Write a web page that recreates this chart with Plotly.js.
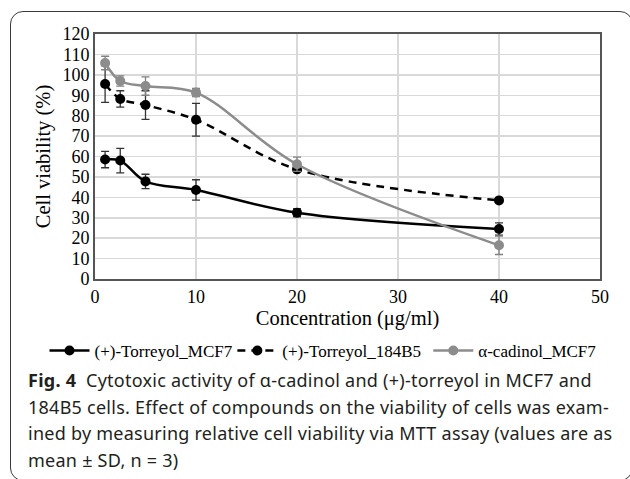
<!DOCTYPE html>
<html>
<head>
<meta charset="utf-8">
<script src="https://cdn.plot.ly/plotly-3.0.1.min.js"></script>
<style>
  html, body { margin: 0; padding: 0; background: #fff; width: 630px; height: 479px; overflow: hidden; }
  #wrap { position: relative; width: 630px; height: 479px; overflow: hidden; }
  #frame { position: absolute; left: 10px; top: 11px; width: 623px; height: 470px;
           border: 1.5px solid #3a3a3a; border-radius: 13px; box-sizing: border-box; }
  #chart { position: absolute; left: 0; top: 0; width: 630px; height: 479px; }
  #caption { position: absolute; left: 28px; top: 367px; width: 600px;
             font-family: "Noto Sans", "Open Sans", sans-serif; font-size: 18px;
             line-height: 26.7px; color: #231f20; white-space: nowrap; letter-spacing: 0.25px; }
  #caption b { font-weight: 700; }
</style>
</head>
<body>
<div id="wrap">
  <div id="frame"></div>
  <div id="chart"></div>
  <div id="caption"><b>Fig. 4</b>&nbsp; Cytotoxic activity of α-cadinol and (+)-torreyol in MCF7 and<br>184B5 cells. Effect of compounds on the viability of cells was exam-<br>ined by measuring relative cell viability via MTT assay (values are as<br>mean ± SD, n = 3)</div>
</div>
<script>
const concentration = [1, 2.5, 5, 10, 20, 40];

const torreyolMCF7 = [58.5, 58, 47.8, 43.6, 32.5, 24.5];
const torreyolMCF7Err = [4, 6, 3.5, 5, 2, 3];

const torreyol184B5 = [95.5, 88.2, 85.2, 78, 53.7, 38.5];
const torreyol184B5Err = [9, 4, 7, 8, 1, 1];

const cadinolMCF7 = [105.8, 97, 94.5, 91.3, 56.2, 16.5];
const cadinolMCF7Err = [3.3, 2.5, 4.5, 2, 3.5, 4.5];

const seriesNames = ["(+)-Torreyol_MCF7", "(+)-Torreyol_184B5", "α-cadinol_MCF7"];
const xTicks = [0, 10, 20, 30, 40, 50];
const yTicks = [0, 10, 20, 30, 40, 50, 60, 70, 80, 90, 100, 110, 120];

const serif = "Liberation Serif, Times New Roman, serif";

function trace(name, y, err, color, dash, errColor, legendId) {
  return {
    x: concentration, y: y, name: name, type: "scatter", mode: "lines+markers",
    legend: legendId,
    line: { color: color, width: 2.5, dash: dash, shape: "spline", smoothing: 1 },
    marker: { color: color, size: 10, symbol: "circle" },
    error_y: { type: "data", array: err, visible: true, color: errColor, thickness: 1.3, width: 4 }
  };
}

const data = [
  trace(seriesNames[0], torreyolMCF7, torreyolMCF7Err, "#000000", "solid", "#333333", "legend"),
  trace(seriesNames[1], torreyol184B5, torreyol184B5Err, "#000000", "8px,6px", "#333333", "legend2"),
  trace(seriesNames[2], cadinolMCF7, cadinolMCF7Err, "#8c8c8c", "solid", "#808080", "legend3")
];

function legendAt(x) {
  return {
    orientation: "h", x: x, xanchor: "left", y: -0.294, yanchor: "middle",
    font: { family: serif, size: 17, color: "#000" },
    itemwidth: 40, bgcolor: "rgba(0,0,0,0)", borderwidth: 0
  };
}

const layout = {
  width: 630, height: 479,
  margin: { l: 95, r: 30, t: 34, b: 200 },
  paper_bgcolor: "rgba(0,0,0,0)",
  plot_bgcolor: "#ffffff",
  showlegend: true,
  legend: legendAt(-0.1),
  legend2: legendAt(0.272),
  legend3: legendAt(0.66),
  xaxis: {
    range: [0, 50], tickvals: xTicks, ticktext: xTicks.map(String),
    showgrid: true, gridcolor: "#d9d9d9", gridwidth: 1.5,
    showline: true, linecolor: "#555555", linewidth: 2, mirror: true,
    zeroline: false, ticks: "",
    tickfont: { family: serif, size: 18, color: "#000" },
    title: { text: "Concentration (μg/ml)", font: { family: serif, size: 20.5, color: "#000" }, standoff: 4 }
  },
  yaxis: {
    range: [0, 120], tickvals: yTicks, ticktext: yTicks.map(String),
    showgrid: true, gridcolor: "#d9d9d9", gridwidth: 1.5,
    showline: true, linecolor: "#555555", linewidth: 2, mirror: true,
    zeroline: false, ticks: "",
    tickfont: { family: serif, size: 18, color: "#000" },
    title: { text: "Cell viability (%)", font: { family: serif, size: 20.5, color: "#000" }, standoff: 6 }
  }
};

Plotly.newPlot("chart", data, layout, { displayModeBar: false, staticPlot: true });
</script>
</body>
</html>
